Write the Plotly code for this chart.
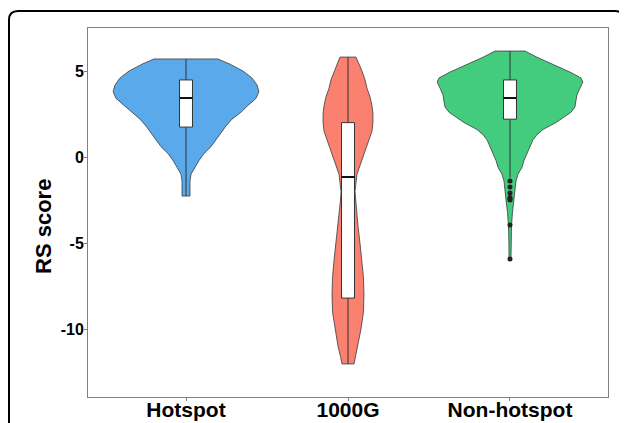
import plotly.graph_objects as go

categories = ["Hotspot", "1000G", "Non-hotspot"]

# Violin outlines: RS score vs. relative density (arbitrary units)
hotspot_score = [-2.27, -1.9, -1.4, -1.0, -0.6, -0.2, 0.2, 0.6, 1.0, 1.4, 1.8, 2.2, 2.6,
                 3.0, 3.4, 3.8, 4.2, 4.6, 5.0, 5.4, 5.7]
hotspot_density = [4, 4, 4, 5, 9, 13, 18, 25, 30, 35, 40, 46, 55,
                   62, 70, 73, 71, 66, 57, 44, 32]

g1000_score = [-12.03, -11.6, -11.0, -10.0, -9.0, -8.0, -7.0, -6.0, -5.0, -4.0, -3.0, -2.5,
               -2.0, -1.5, -1.0, -0.5, 0.0, 0.5, 1.0, 1.5, 2.0, 2.5, 3.0, 3.5, 4.0, 4.5,
               5.0, 5.4, 5.81]
g1000_density = [6, 7.5, 10, 13, 15.5, 16, 15.5, 14, 12, 10, 8.5, 7.5,
                 7, 8, 9, 12, 15, 18, 21, 24, 25, 25, 24, 22, 19, 17,
                 14, 11, 8]

nonhot_score = [-5.93, -5.0, -4.0, -3.2, -2.5, -1.8, -1.4, -1.0, -0.6, -0.2, 0.2, 0.6, 1.0,
                1.3, 1.6, 2.0, 2.3, 2.6, 2.9, 3.2, 3.6, 4.0, 4.36, 4.6, 4.94, 5.2, 5.46,
                5.8, 6.16]
nonhot_density = [1, 1.1, 1.5, 2.5, 4, 5, 6, 8, 12, 14, 17, 20, 23,
                  27, 33, 46, 54, 61, 65, 66, 67, 70, 73, 71, 60, 50, 40,
                  27, 15]

# Box-plot statistics per category
box_q1 = [1.74, -8.2, 2.2]
box_median = [3.43, -1.16, 3.43]
box_q3 = [4.48, 2.0, 4.48]
box_lower = [-2.27, -12.03, -1.2]
box_upper = [5.7, 5.81, 6.16]
nonhot_outliers = [-1.4, -1.74, -2.09, -2.35, -2.44, -2.5, -3.95, -5.93]

y_ticks = [-10, -5, 0, 5]
y_tick_labels = ["-10", "-5", "0", "5"]

# ---- styling ----
colors = ["#5AA9EA", "#FA8070", "#43CC7E"]
MAX_HALF_WIDTH = 0.45
BOX_WIDTH = 0.08
OFF = 8  # page body margin
W, H = 627 - OFF, 423 - OFF
L, R, T, B = 88 - OFF, 608 - OFF, 28 - OFF, 397 - OFF
FONT = "Arial, Liberation Sans, sans-serif"

profiles = [(hotspot_score, hotspot_density),
            (g1000_score, g1000_density),
            (nonhot_score, nonhot_density)]
dmax = max(max(d) for _, d in profiles)

fig = go.Figure()
for i, (sc, de) in enumerate(profiles):
    hw = [d / dmax * MAX_HALF_WIDTH for d in de]
    xs = [i + h for h in hw] + [i - h for h in reversed(hw)]
    ys = list(sc) + list(reversed(sc))
    fig.add_trace(go.Scatter(x=xs + [xs[0]], y=ys + [ys[0]], mode="lines", fill="toself",
                             fillcolor=colors[i], line=dict(color="#3a3a3a", width=0.8),
                             hoverinfo="skip", showlegend=False))

for i in range(3):
    # whiskers
    fig.add_trace(go.Scatter(x=[i, i, None, i, i],
                             y=[box_lower[i], box_q1[i], None, box_q3[i], box_upper[i]],
                             mode="lines", line=dict(color="#333333", width=1),
                             showlegend=False, hoverinfo="skip"))
    # box
    x0, x1 = i - BOX_WIDTH / 2, i + BOX_WIDTH / 2
    fig.add_trace(go.Scatter(x=[x0, x1, x1, x0, x0],
                             y=[box_q1[i], box_q1[i], box_q3[i], box_q3[i], box_q1[i]],
                             mode="lines", fill="toself", fillcolor="white",
                             line=dict(color="#333333", width=1),
                             showlegend=False, hoverinfo="skip"))
    # median
    fig.add_trace(go.Scatter(x=[x0, x1], y=[box_median[i], box_median[i]], mode="lines",
                             line=dict(color="#111111", width=2), showlegend=False,
                             hoverinfo="skip"))

fig.add_trace(go.Scatter(x=[2] * len(nonhot_outliers), y=nonhot_outliers, mode="markers",
                         marker=dict(color="#222222", size=5), showlegend=False))


def px(xp):
    return (xp - OFF - L) / (R - L)


def py(yp):
    return (B - (yp - OFF)) / (B - T)


fl, ft, fr, fb, rad = 9, 11, 624, 460, 9
path = (f"M {px(fl)},{py(fb)} L {px(fl)},{py(ft + rad)} Q {px(fl)},{py(ft)} {px(fl + rad)},{py(ft)} "
        f"L {px(fr - rad)},{py(ft)} Q {px(fr)},{py(ft)} {px(fr)},{py(ft + rad)} L {px(fr)},{py(fb)}")
fig.add_shape(type="path", path=path, xref="paper", yref="paper",
              line=dict(color="black", width=2))

axis_common = dict(showline=True, mirror=True, linecolor="#808080", linewidth=1,
                   ticks="outside", ticklen=3, tickcolor="#808080", showgrid=False,
                   zeroline=False, automargin=False)
fig.update_xaxes(range=[-0.605, 2.605], tickvals=[0, 1, 2], ticktext=categories,
                 tickfont=dict(size=21, color="black", family=FONT, weight="bold"),
                 ticklabelstandoff=-9, **axis_common)
fig.update_yaxes(range=[-13.95, 7.5], tickvals=y_ticks, ticktext=y_tick_labels,
                 tickfont=dict(size=16, color="black", family=FONT, weight="bold"),
                 ticklabelstandoff=-3, **axis_common)

fig.add_annotation(text="RS score", textangle=-90, xref="paper", yref="paper",
                   x=px(44), y=py(227), xanchor="center", yanchor="middle", showarrow=False,
                   font=dict(size=22, color="black", family=FONT, weight="bold"))

fig.update_layout(width=W, height=H, margin=dict(l=L, r=W - R, t=T, b=H - B),
                  plot_bgcolor="white", paper_bgcolor="white", showlegend=False)

fig.write_html("out.html")
